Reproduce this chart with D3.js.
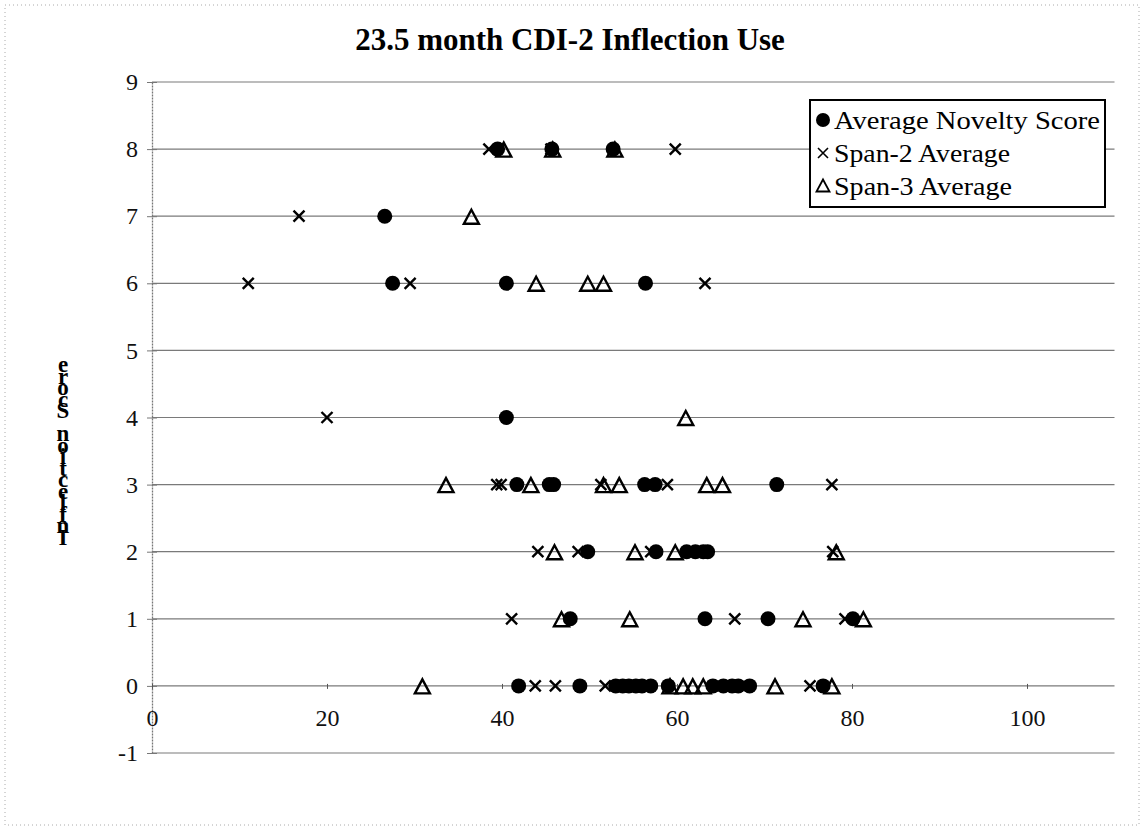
<!DOCTYPE html>
<html><head><meta charset="utf-8">
<script src="https://cdn.jsdelivr.net/npm/d3@7"></script>
<style>body{margin:0;background:#fff}</style>
</head><body><svg id="c" width="1143" height="830"></svg>
<script>
const chartTitle = "23.5 month CDI-2 Inflection Use";
const yAxisLabel = "Inflection Score";
const xTickValues = [0, 20, 40, 60, 80, 100];
const yTickValues = [-1, 0, 1, 2, 3, 4, 5, 6, 7, 8, 9];
const seriesNames = ["Average Novelty Score", "Span-2 Average", "Span-3 Average"];

// [x, y] pairs
const noveltyScore = [
  [39.5,8],[45.7,8],[52.7,8],
  [26.6,7],
  [27.5,6],[40.5,6],[56.4,6],
  [40.5,4],
  [41.7,3],[45.4,3],[45.9,3],[56.3,3],[57.5,3],[71.4,3],
  [49.8,2],[57.6,2],[61.1,2],[62.1,2],[63.0,2],[63.5,2],
  [47.8,1],[63.2,1],[70.4,1],[80.1,1],
  [41.9,0],[48.9,0],[53.0,0],[53.8,0],[54.5,0],[55.3,0],[56.0,0],[57.0,0],[59.0,0],
  [64.1,0],[65.3,0],[66.3,0],[67.0,0],[68.3,0],[76.7,0]
];
const span2Average = [
  [38.5,8],[45.6,8],[59.8,8],
  [16.8,7],
  [11.0,6],[29.5,6],[63.2,6],
  [20.0,4],
  [39.4,3],[39.9,3],[51.3,3],[58.9,3],[77.7,3],
  [44.1,2],[48.7,2],[57.0,2],[77.8,2],
  [41.1,1],[66.6,1],[79.2,1],
  [43.8,0],[46.1,0],[51.8,0],[75.2,0]
];
const span3Average = [
  [40.2,8],[45.8,8],[52.9,8],
  [36.5,7],
  [43.9,6],[49.8,6],[51.6,6],
  [61.0,4],
  [33.6,3],[43.3,3],[51.6,3],[53.4,3],[63.4,3],[65.2,3],
  [46.0,2],[55.2,2],[59.8,2],[78.2,2],
  [46.8,1],[54.6,1],[74.4,1],[81.3,1],
  [30.9,0],[59.2,0],[60.7,0],[61.8,0],[63.0,0],[71.2,0],[77.7,0]
];

const svg = d3.select("#c");
const serif = "'Liberation Serif','Times New Roman',serif";
const x = d3.scaleLinear().domain([0, 110]).range([152, 1114.5]);
const y = d3.scaleLinear().domain([-1, 9]).range([753, 82]);

// outer frame
svg.append("rect").attr("x", 5).attr("y", 5).attr("width", 1134).attr("height", 820)
  .attr("fill", "none").attr("stroke", "#aaa").attr("stroke-dasharray", "1,3");

// title
svg.append("text").attr("x", 570).attr("y", 50).attr("text-anchor", "middle")
  .attr("font-family", serif).attr("font-weight", "bold").attr("font-size", 31)
  .text(chartTitle);

// horizontal gridlines
svg.append("g").selectAll("line").data(yTickValues).join("line")
  .attr("x1", x(0)).attr("x2", x(110))
  .attr("y1", d => y(d)).attr("y2", d => y(d))
  .attr("stroke", "#7a7a7a").attr("stroke-width", 1.2);

// vertical axis
const yAxis = d3.axisLeft(y).tickValues(yTickValues).tickSize(0).tickPadding(14)
  .tickFormat(d => String(d));
const gy = svg.append("g").attr("transform", `translate(${x(0)},0)`).call(yAxis);
gy.select(".domain").attr("stroke", "#777").attr("stroke-width", 1.3).attr("stroke-dasharray", "2,1");
gy.selectAll("text").attr("font-family", serif).attr("font-size", 24).attr("fill", "#111");
gy.selectAll(".tick").append("line").attr("x1", -5).attr("x2", 5).attr("stroke", "#777");

// horizontal axis along y = 0
const xAxis = d3.axisBottom(x).tickValues(xTickValues).tickSize(5).tickPadding(18)
  .tickFormat(d => String(d));
const gx = svg.append("g").attr("transform", `translate(0,${y(0)})`).call(xAxis);
gx.select(".domain").remove();
gx.selectAll(".tick line").attr("stroke", "#555").attr("transform", "translate(0,-2)");
gx.selectAll("text").attr("font-family", serif).attr("font-size", 24).attr("fill", "#111");

// y axis label: stacked reversed letters as one vertical text run
const labelText = Array.from(yAxisLabel).reverse().join("");
svg.append("text").attr("x", 63).attr("y", 352)
  .attr("font-family", serif).attr("font-weight", "bold").attr("font-size", 23)
  .style("writing-mode", "vertical-rl").style("text-orientation", "upright")
  .attr("textLength", 198).attr("lengthAdjust", "spacing")
  .text(labelText);

// markers
const plot = svg.append("g");
plot.selectAll("circle.nov").data(noveltyScore).join("circle").attr("class", "nov")
  .attr("cx", d => x(d[0])).attr("cy", d => y(d[1])).attr("r", 7.5).attr("fill", "#000");
const xs = 5.5;
plot.selectAll("path.s2").data(span2Average).join("path").attr("class", "s2")
  .attr("transform", d => `translate(${x(d[0])},${y(d[1])})`)
  .attr("d", `M${-xs},${-xs}L${xs},${xs}M${-xs},${xs}L${xs},${-xs}`)
  .attr("stroke", "#000").attr("stroke-width", 2.4).attr("fill", "none");
const tri = "M0,-7.5L7.5,6.5L-7.5,6.5Z";
plot.selectAll("path.s3").data(span3Average).join("path").attr("class", "s3")
  .attr("transform", d => `translate(${x(d[0])},${y(d[1]) + 1})`)
  .attr("d", tri).attr("stroke", "#000").attr("stroke-width", 2.4).attr("fill", "none");

// legend
const lg = svg.append("g");
lg.append("rect").attr("x", 810).attr("y", 100).attr("width", 295).attr("height", 107)
  .attr("fill", "#fff").attr("stroke", "#000").attr("stroke-width", 2);
const ly = [120, 153, 186];
lg.append("circle").attr("cx", 823).attr("cy", ly[0]).attr("r", 7).attr("fill", "#000");
lg.append("path").attr("transform", `translate(823,${ly[1]})`)
  .attr("d", "M-5,-5L5,5M-5,5L5,-5").attr("stroke", "#000").attr("stroke-width", 1.6);
lg.append("path").attr("transform", `translate(823,${ly[2]})`)
  .attr("d", "M0,-6.5L6.5,5.5L-6.5,5.5Z").attr("stroke", "#000").attr("stroke-width", 1.8).attr("fill", "none");
lg.selectAll("text").data(seriesNames).join("text")
  .attr("x", 834).attr("y", (d, i) => ly[i] + 9)
  .attr("font-family", serif).attr("font-size", 26).attr("textLength", (d, i) => [266, 176, 178][i])
  .attr("lengthAdjust", "spacingAndGlyphs").text(d => d);
</script>
</body></html>
